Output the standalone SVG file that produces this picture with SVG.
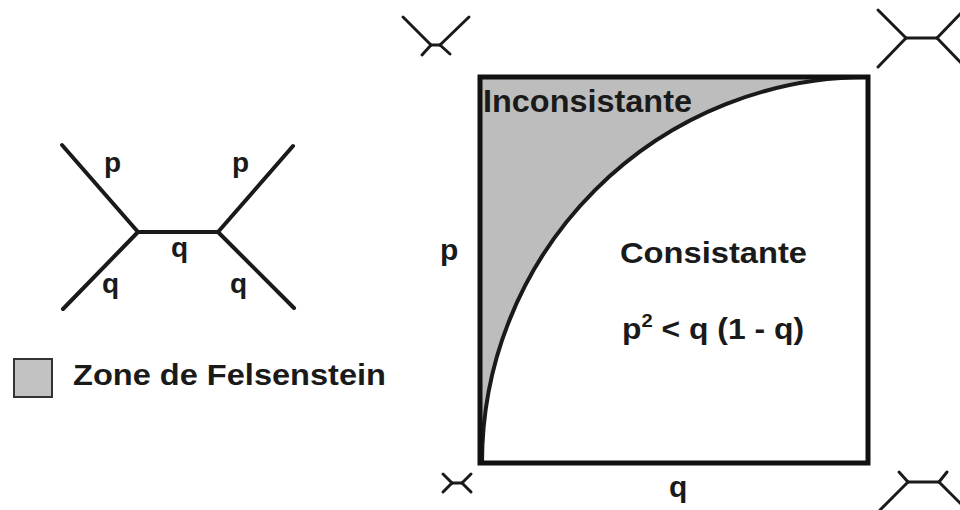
<svg xmlns="http://www.w3.org/2000/svg" width="960" height="510" viewBox="0 0 960 510">
<style>
.t{font-family:"Liberation Sans",Arial,sans-serif;font-weight:bold;fill:#1a1a1a}
.e{stroke:#1a1a1a;stroke-width:4;stroke-linecap:round;fill:none}
.s{stroke:#1a1a1a;stroke-width:3;stroke-linecap:round;fill:none}
</style>
<rect width="960" height="510" fill="#ffffff"/>
<g id="tree-main">
<g id="connectors">
<line class="e" x1="62" y1="145" x2="138" y2="232"/>
<line class="e" x1="63" y1="309" x2="138" y2="232"/>
<line class="e" x1="138" y1="232" x2="218" y2="232"/>
<line class="e" x1="218" y1="232" x2="293" y2="146"/>
<line class="e" x1="218" y1="232" x2="294" y2="308"/>
</g>
<text class="t" x="104" y="172" font-size="28">p</text>
<text class="t" x="232" y="172" font-size="28">p</text>
<text class="t" x="171" y="257" font-size="28">q</text>
<text class="t" x="102" y="293" font-size="28">q</text>
<text class="t" x="230" y="293" font-size="28">q</text>
</g>
<g id="legend">
<rect x="14" y="359" width="38" height="38" fill="#c2c2c2" stroke="#333" stroke-width="2"/>
<text class="t" x="73" y="385" font-size="29" textLength="313" lengthAdjust="spacingAndGlyphs">Zone de Felsenstein</text>
</g>
<g id="plot">
<path d="M482,463 A386,386 0 0 1 868,77 L480,77 Z" fill="#bdbdbd"/>
<path d="M482,463 A386,386 0 0 1 868,77" class="e"/>
<rect x="480" y="77" width="388" height="386" fill="none" stroke="#111" stroke-width="5"/>
<text class="t" x="483" y="112" font-size="31" textLength="209" lengthAdjust="spacingAndGlyphs">Inconsistante</text>
<text class="t" x="620" y="263" font-size="30" textLength="187" lengthAdjust="spacingAndGlyphs">Consistante</text>
<text class="t" x="622" y="339" font-size="30" textLength="182" lengthAdjust="spacingAndGlyphs">p<tspan font-size="19" dy="-12">2</tspan><tspan dy="12"> &lt; q (1 - q)</tspan></text>
<text class="t" x="440" y="260" font-size="30">p</text>
<text class="t" x="669" y="497" font-size="30">q</text>
</g>
<g id="tree-tl">
<line class="s" x1="403" y1="17" x2="431" y2="45"/>
<line class="s" x1="422" y1="55" x2="431" y2="45"/>
<line class="s" x1="431" y1="45" x2="440" y2="45"/>
<line class="s" x1="440" y1="45" x2="469" y2="17"/>
<line class="s" x1="440" y1="45" x2="450" y2="54"/>
</g>
<g id="tree-tr">
<line class="s" x1="878" y1="10" x2="906" y2="38"/>
<line class="s" x1="878" y1="67" x2="906" y2="38"/>
<line class="s" x1="906" y1="38" x2="937" y2="38"/>
<line class="s" x1="937" y1="38" x2="962" y2="12"/>
<line class="s" x1="937" y1="38" x2="962" y2="64"/>
</g>
<g id="tree-bl">
<line class="s" x1="443" y1="474" x2="452" y2="483"/>
<line class="s" x1="443" y1="492" x2="452" y2="483"/>
<line class="s" x1="452" y1="483" x2="462" y2="483"/>
<line class="s" x1="462" y1="483" x2="471" y2="474"/>
<line class="s" x1="462" y1="483" x2="471" y2="492"/>
</g>
<g id="tree-br">
<line class="s" x1="899" y1="472" x2="908" y2="482"/>
<line class="s" x1="880" y1="510" x2="908" y2="482"/>
<line class="s" x1="908" y1="482" x2="939" y2="482"/>
<line class="s" x1="939" y1="482" x2="947" y2="472"/>
<line class="s" x1="939" y1="482" x2="967" y2="510"/>
</g>
</svg>
